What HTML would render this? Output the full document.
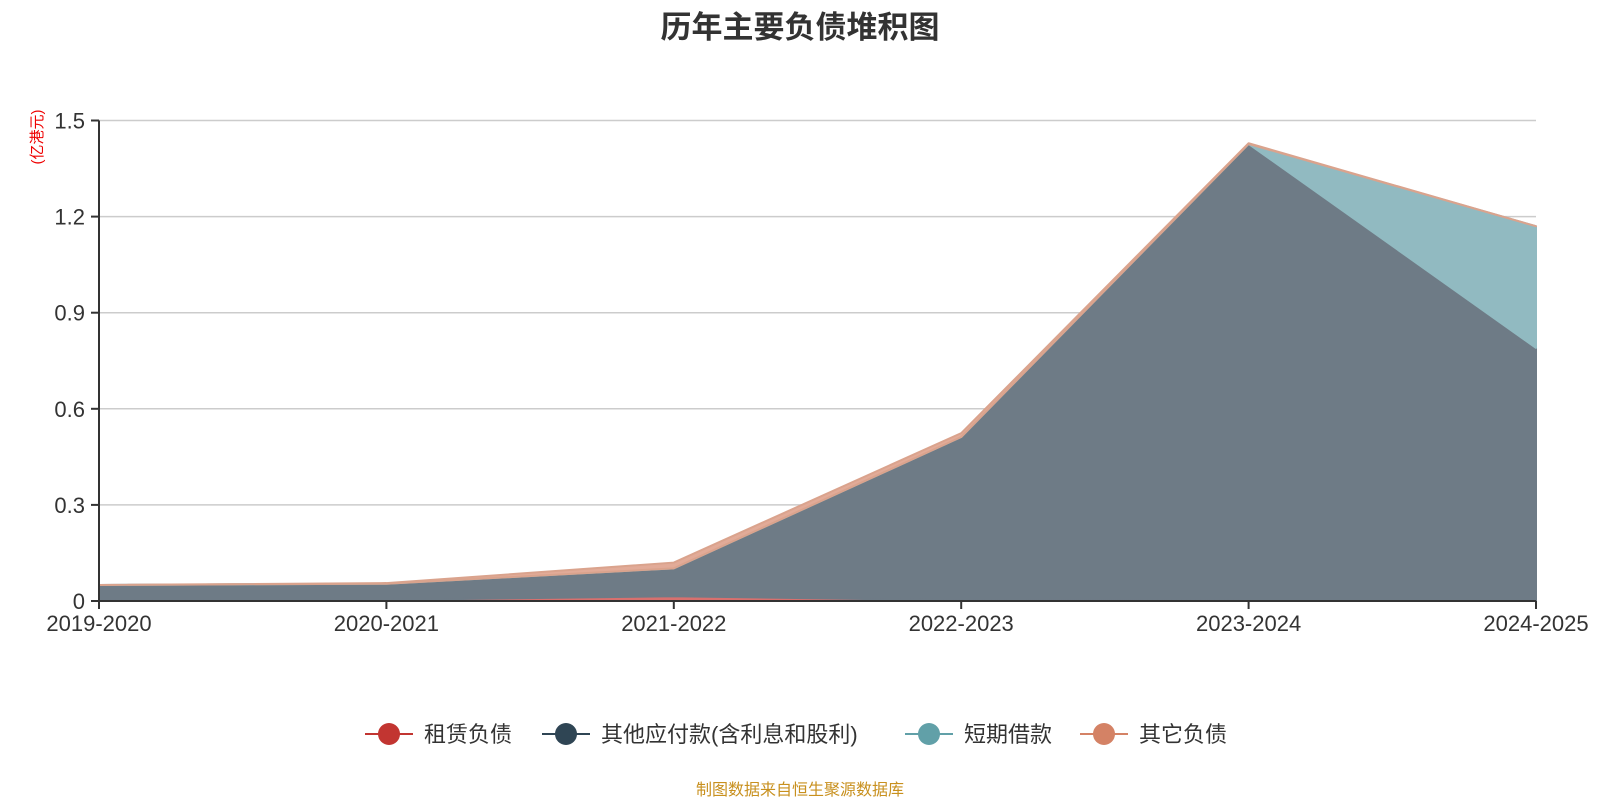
<!DOCTYPE html>
<html><head><meta charset="utf-8"><style>
body{margin:0;background:#fff;}
svg{display:block;font-family:"Liberation Sans","Noto Sans CJK SC",sans-serif;}
</style></head><body>
<svg id="c" width="1600" height="800">
<text x="800" y="38" text-anchor="middle" font-size="31" font-weight="bold" fill="#333">历年主要负债堆积图</text>
<text transform="translate(42,137) rotate(-90)" text-anchor="middle" font-size="15" fill="#e00">(亿港元)</text>
<g id="grid"></g><g id="areas"></g><g id="axes"></g>
<g id="legend"></g>
<text x="800" y="795" text-anchor="middle" font-size="16" fill="#c8901e">制图数据来自恒生聚源数据库</text>
</svg>
<script>
const categories=["2019-2020","2020-2021","2021-2022","2022-2023","2023-2024","2024-2025"];
const seriesNames=["租赁负债","其他应付款(含利息和股利)","短期借款","其它负债"];
const lease=[0,0.003,0.015,0.002,0,0];
const otherPayables=[0.05,0.051,0.087,0.51,1.427,0.79];
const shortLoans=[0,0,0,0,0,0.38];
const otherLiab=[0,0.002,0.018,0.012,0.002,0];
const yTicks=[0,0.3,0.6,0.9,1.2,1.5];
const yTickLabels=["0","0.3","0.6","0.9","1.2","1.5"];
const NS="http://www.w3.org/2000/svg";
const X0=99,X1=1536,Y0=601,Y1=120.5,YMAX=1.5;
const xs=i=>X0+(X1-X0)*i/(categories.length-1);
const ys=v=>Y0-(Y0-Y1)*v/YMAX;
function mk(tag,attrs,parent){const e=document.createElementNS(NS,tag);for(const k in attrs)e.setAttribute(k,attrs[k]);parent.appendChild(e);return e;}
const grid=document.getElementById('grid'),areas=document.getElementById('areas'),axes=document.getElementById('axes'),legend=document.getElementById('legend');
yTicks.forEach((t,i)=>{
  if(t>0){const g=mk('line',{x1:X0,x2:X1,y1:ys(t),y2:ys(t),stroke:'#ccc','stroke-width':1.5},grid);
  
  }
  const tk=mk('line',{x1:X0-8,x2:X0,y1:ys(t),y2:ys(t),stroke:'#333','stroke-width':2},axes);
  
  
  const lb=mk('text',{x:X0-14,y:ys(t)+8,'text-anchor':'end','font-size':22,fill:'#333'},axes);
  lb.textContent=yTickLabels[i];
  
  
});
const series=[lease,otherPayables,shortLoans,otherLiab];
const fills=['#d9706e','#6e7b86','#91bac1','#e2ab98'];
const strokes=['#d9706e','#6e7b86','#91bac1','#daa38d'];
const keys=['lease-liabilities-area','other-payables-area','short-term-loans-area','other-liabilities-area'];
let base=categories.map(()=>0);
series.forEach((s,si)=>{
  const top=base.map((b,i)=>b+s[i]);
  let d='M'+categories.map((c,i)=>xs(i)+','+ys(top[i])).join('L');
  for(let i=categories.length-1;i>=0;i--)d+='L'+xs(i)+','+ys(base[i]);
  d+='Z';
  const p=mk('path',{d:d,fill:fills[si],stroke:strokes[si],'stroke-width':2,'stroke-linejoin':'round'},areas);
  
  
  base=top;
});
const ax=mk('line',{x1:X0,x2:X1,y1:Y0,y2:Y0,stroke:'#333','stroke-width':2},axes);


const ay=mk('line',{x1:X0,x2:X0,y1:Y0,y2:Y1,stroke:'#333','stroke-width':2},axes);


categories.forEach((c,i)=>{
  const tk=mk('line',{x1:xs(i),x2:xs(i),y1:Y0,y2:Y0+8,stroke:'#333','stroke-width':2},axes);
  
  
  const lb=mk('text',{x:xs(i),y:Y0+30,'text-anchor':'middle','font-size':22,fill:'#333'},axes);
  lb.textContent=c;
  
  
});
const legColors=['#c23531','#2f4554','#61a0a8','#d48265'];
const legX=[389,566,929,1104];
seriesNames.forEach((n,i)=>{
  const g=mk('g',{},legend);
  
  
  mk('line',{x1:legX[i]-24,x2:legX[i]+24,y1:734,y2:734,stroke:legColors[i],'stroke-width':2},g);
  mk('circle',{cx:legX[i],cy:734,r:11,fill:legColors[i]},g);
  const t=mk('text',{x:legX[i]+35,y:742,'font-size':22,fill:'#333'},g);
  t.textContent=n;
});
</script>
</body></html>
